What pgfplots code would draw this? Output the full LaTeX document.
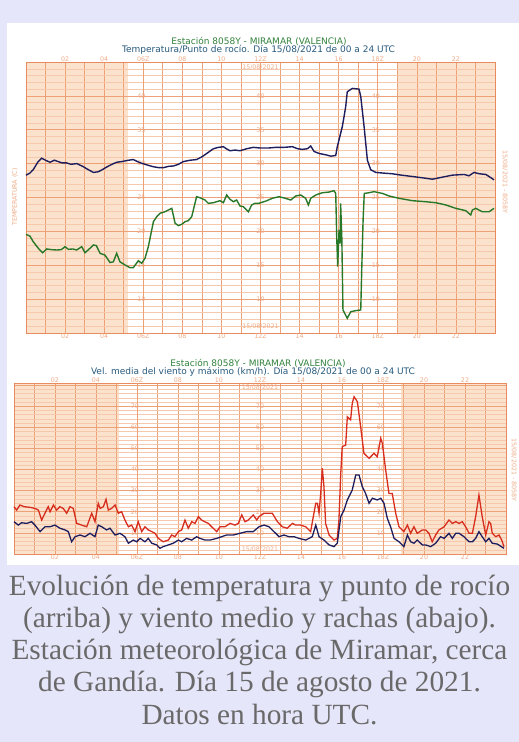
\documentclass[border=0pt]{standalone}
\usepackage{fontspec}
\setmainfont{Liberation Serif}
\newfontfamily\chartfont{DejaVu Sans}
\usepackage{pgfplots}
\pgfplotsset{compat=1.18}
\definecolor{lav}{RGB}{230,230,250}
\definecolor{shade}{RGB}{251,226,204}
\definecolor{gminor}{RGB}{246,200,172}
\definecolor{gmajor}{RGB}{238,160,118}
\definecolor{framec}{RGB}{232,140,95}
\definecolor{labc}{RGB}{240,172,135}
\definecolor{navy}{RGB}{30,30,95}
\definecolor{dgreen}{RGB}{40,120,40}
\definecolor{gred}{RGB}{215,45,30}
\definecolor{tgreen}{RGB}{50,130,60}
\definecolor{tblue}{RGB}{40,90,125}
\definecolor{capgray}{RGB}{105,105,105}
\tikzset{labs/.style={font=\chartfont\fontsize{6.3bp}{7bp}\selectfont, text=labc, inner sep=0.6bp},
  ttl/.style={font=\chartfont\fontsize{9bp}{10bp}\selectfont, inner sep=0pt}}
\pgfplotsset{
  meteo/.style={
    scale only axis, clip=false,
    xmin=0, xmax=24,
    axis line style={draw=framec, line width=0.8bp},
    xtick={0,1,...,24}, xticklabels={}, yticklabels={},
    major tick length=0pt, minor tick length=0pt,
    xmajorgrids, ymajorgrids, yminorgrids,
    major grid style={draw=gmajor, line width=0.6bp},
    minor grid style={draw=gminor, line width=0.45bp},
    extra x ticks={6,12,18}, extra x tick labels={},
    extra x tick style={grid style={draw=gray!55, line width=0.7bp}},
  },
  bgax/.style={scale only axis, hide axis, xmin=0, xmax=24},
}
\newcommand{\tl}[3]{\node[labs,anchor=south] at (axis cs:#1,#2) {#3};}
\newcommand{\bl}[3]{\node[labs,anchor=north] at (axis cs:#1,#2) {#3};}
\newcommand{\yl}[2]{\node[labs] at (axis cs:#1,#2) {#2};}
\begin{document}
\begin{tikzpicture}
\fill[lav] (0bp,0bp) rectangle (519bp,742bp);
\fill[white] (7bp,177bp) rectangle (519bp,719bp);
% titles
\node[ttl, text=tgreen] at (259bp,700bp) {Estación 8058Y - MIRAMAR (VALENCIA)};
\node[ttl, text=tblue] at (258.5bp,692bp) {Temperatura/Punto de rocío. Día 15/08/2021 de 00 a 24 UTC};
\node[ttl, text=tgreen] at (258bp,379bp) {Estación 8058Y - MIRAMAR (VALENCIA)};
\node[ttl, text=tblue] at (253bp,370bp) {Vel. media del viento y máximo (km/h). Día 15/08/2021 de 00 a 24 UTC};
\node[labs, rotate=90] at (15bp,545bp) {TEMPERATURA (C)};
\node[labs, rotate=-90] at (505bp,560bp) {15/08/2021 - 8058Y};
\node[labs, rotate=-90] at (514bp,272bp) {15/08/2021 - 8058Y};
% ---------------- upper chart: night shading
\begin{axis}[bgax, at={(26bp,409bp)}, anchor=south west, width=469bp, height=271bp, ymin=5, ymax=45]
\addplot[draw=none, fill=shade] coordinates {(0,5) (5.2,5) (5.2,45) (0,45)} -- cycle;
\addplot[draw=none, fill=shade] coordinates {(19.0,5) (24,5) (24,45) (19.0,45)} -- cycle;
\end{axis}
\begin{axis}[meteo, at={(26bp,409bp)}, anchor=south west, width=469bp, height=271bp,
  ymin=5, ymax=45, ytick={5,10,...,45}, minor y tick num=4]
\tl{2}{45}{02}\tl{4}{45}{04}\tl{6}{45}{06Z}\tl{8}{45}{08}\tl{10}{45}{10}\tl{12}{45}{12Z}\tl{14}{45}{14}\tl{16}{45}{16}\tl{18}{45}{18Z}\tl{20}{45}{20}\tl{22}{45}{22}
\bl{2}{5}{02}\bl{4}{5}{04}\bl{6}{5}{06Z}\bl{8}{5}{08}\bl{10}{5}{10}\bl{12}{5}{12Z}\bl{14}{5}{14}\bl{16}{5}{16}\bl{18}{5}{18Z}\bl{20}{5}{20}\bl{22}{5}{22}
\yl{5.9}{10}\yl{5.9}{15}\yl{5.9}{20}\yl{5.9}{25}\yl{5.9}{30}\yl{5.9}{35}\yl{5.9}{40}
\yl{12}{10}\yl{12}{15}\yl{12}{20}\yl{12}{25}\yl{12}{30}\yl{12}{35}\yl{12}{40}
\yl{17.9}{10}\yl{17.9}{15}\yl{17.9}{20}\yl{17.9}{25}\yl{17.9}{30}\yl{17.9}{35}\yl{17.9}{40}
\node[labs, anchor=north] at (axis cs:12,44.7) {15/08/2021};
\node[labs, anchor=south] at (axis cs:12,5.4) {15/08/2021};
% temperature
\addplot[navy, line width=1.4bp] coordinates {
(0,28.3) (0.2,28.6) (0.37,29.1) (0.6,30.2) (0.8,30.8) (1.0,30.5) (1.23,30.2) (1.45,30.5) (1.65,30.3) (1.85,30.1) (2.08,30.1) (2.3,29.9) (2.6,30.0) (2.9,29.6) (3.19,29.1) (3.45,28.7) (3.7,28.8) (3.9,29.1) (4.13,29.5) (4.4,29.9) (4.64,30.2) (4.9,30.3) (5.24,30.5) (5.49,30.6) (5.7,30.3) (5.92,30.05) (6.2,29.8) (6.5,29.55) (6.8,29.4) (7.03,29.4) (7.3,29.6) (7.54,29.65) (7.8,29.9) (8.05,30.3) (8.4,30.5) (8.73,30.6) (9.0,31.0) (9.25,31.5) (9.59,32.2) (9.85,32.4) (10.1,32.5) (10.25,32.2) (10.44,31.9) (10.7,32.0) (10.95,31.9) (11.3,32.2) (11.63,32.4) (12.0,32.3) (12.4,32.3) (12.78,32.4) (13.2,32.4) (13.63,32.5) (13.9,32.2) (14.14,32.1) (14.4,32.2) (14.57,32.6) (14.74,31.8) (15.0,31.5) (15.34,31.3) (15.6,31.1) (15.85,31.2) (15.93,32.5) (16.19,35.5) (16.36,38.4) (16.44,40.6) (16.7,41.1) (17.04,41.0) (17.13,39.9) (17.3,35.5) (17.47,30.5) (17.64,29.1) (17.9,28.7) (18.3,28.6) (18.75,28.5) (19.2,28.3) (19.77,28.1) (20.3,27.9) (20.8,27.7) (21.3,28.0) (21.82,28.3) (22.42,28.4) (22.67,28.2) (22.93,28.7) (23.2,28.5) (23.53,28.4) (23.75,28.0) (23.95,27.6)};
% dew point
\addplot[dgreen, line width=1.4bp] coordinates {
(0,19.56) (0.2,19.3) (0.37,18.48) (0.63,17.5) (0.85,16.85) (1.06,17.4) (1.3,17.3) (1.57,17.25) (1.8,17.3) (2.0,17.74) (2.17,17.35) (2.4,17.4) (2.59,17.25) (2.85,17.74) (3.02,16.85) (3.2,17.3) (3.45,17.99) (3.6,17.9) (3.79,16.76) (4.04,16.5) (4.3,15.4) (4.47,15.5) (4.64,16.76) (4.81,15.5) (5.07,15.04) (5.32,14.64) (5.49,14.64) (5.75,15.67) (5.92,15.29) (6.09,16.03) (6.26,17.74) (6.52,21.43) (6.69,22.17) (6.86,22.67) (7.11,22.9) (7.28,23.15) (7.46,23.4) (7.63,21.2) (7.8,20.84) (8.0,21.1) (8.14,21.43) (8.31,21.58) (8.48,22.17) (8.73,25.12) (8.9,24.97) (9.16,24.63) (9.33,24.14) (9.59,24.23) (9.93,24.53) (10.1,24.23) (10.27,25.37) (10.44,24.73) (10.61,24.38) (10.78,24.63) (10.95,23.75) (11.12,23.65) (11.38,22.9) (11.55,23.9) (11.72,24.14) (11.92,24.14) (12.3,24.5) (12.6,24.88) (12.95,25.12) (13.25,24.9) (13.55,24.63) (13.8,25.22) (14.06,25.37) (14.31,24.88) (14.45,23.9) (14.57,24.88) (14.83,25.37) (15.16,25.7) (15.5,25.8) (15.76,26.0) (15.85,25.6) (15.9,19.2) (15.95,14.8) (16.02,20.2) (16.07,18.2) (16.1,24.14) (16.16,19.2) (16.22,8.4) (16.44,7.17) (16.62,8.14) (16.87,8.3) (17.13,8.4) (17.18,14.3) (17.25,21.7) (17.31,25.6) (17.55,25.7) (17.81,25.86) (18.24,25.6) (18.58,25.22) (19.09,24.88) (19.77,24.53) (20.45,24.38) (20.97,24.23) (21.48,23.9) (21.99,23.4) (22.5,23.06) (22.76,22.42) (22.84,23.15) (23.01,23.4) (23.35,22.9) (23.7,22.9) (23.95,23.4)};
\end{axis}
% ---------------- lower chart: night shading
\begin{axis}[bgax, at={(14bp,188bp)}, anchor=south west, width=492bp, height=171bp, ymin=0, ymax=81]
\addplot[draw=none, fill=shade] coordinates {(0,0) (5.1,0) (5.1,81) (0,81)} -- cycle;
\addplot[draw=none, fill=shade] coordinates {(18.9,0) (24,0) (24,81) (18.9,81)} -- cycle;
\end{axis}
\begin{axis}[meteo, at={(14bp,188bp)}, anchor=south west, width=492bp, height=171bp,
  ymin=0, ymax=81, ytick={0,10,...,80}, minor y tick num=4]
\tl{2}{81}{02}\tl{4}{81}{04}\tl{6}{81}{06Z}\tl{8}{81}{08}\tl{10}{81}{10}\tl{12}{81}{12Z}\tl{14}{81}{14}\tl{16}{81}{16}\tl{18}{81}{18Z}\tl{20}{81}{20}\tl{22}{81}{22}
\bl{2}{0}{02}\bl{4}{0}{04}\bl{6}{0}{06Z}\bl{8}{0}{08}\bl{10}{0}{10}\bl{12}{0}{12Z}\bl{14}{0}{14}\bl{16}{0}{16}\bl{18}{0}{18Z}\bl{20}{0}{20}\bl{22}{0}{22}
\yl{5.9}{10}\yl{5.9}{20}\yl{5.9}{30}\yl{5.9}{40}\yl{5.9}{50}\yl{5.9}{60}\yl{5.9}{70}
\yl{12}{10}\yl{12}{20}\yl{12}{30}\yl{12}{40}\yl{12}{50}\yl{12}{60}\yl{12}{70}
\yl{17.9}{10}\yl{17.9}{20}\yl{17.9}{30}\yl{17.9}{40}\yl{17.9}{50}\yl{17.9}{60}\yl{17.9}{70}
\node[labs, anchor=north] at (axis cs:12,80.5) {15/08/2021};
\node[labs, anchor=south] at (axis cs:12,0.6) {15/08/2021};
% gusts
\addplot[gred, line width=1.3bp] coordinates {
(0,22.4) (0.13,20.8) (0.29,23.2) (0.5,22.4) (0.78,22.1) (1.02,21.6) (1.19,20.8) (1.35,16.1) (1.51,19.3) (1.67,22.4) (1.76,20.0) (1.92,23.2) (2.08,20.8) (2.24,22.4) (2.4,21.6) (2.57,19.3) (2.73,22.4) (2.89,21.6) (3.06,14.5) (3.3,13.7) (3.55,12.9) (3.79,19.3) (3.95,15.3) (4.11,24.0) (4.2,21.6) (4.36,22.4) (4.49,25.9) (4.6,20.8) (4.76,21.6) (4.93,23.2) (5.09,19.3) (5.25,20.0) (5.41,16.1) (5.58,12.9) (5.74,13.7) (5.9,10.6) (6.06,15.3) (6.23,10.6) (6.39,12.9) (6.55,11.4) (6.72,10.6) (6.88,9.8) (7.04,7.4) (7.28,5.8) (7.53,6.6) (7.69,9.0) (7.85,8.2) (8.02,10.6) (8.18,11.4) (8.34,16.1) (8.5,12.2) (8.67,15.3) (8.83,14.5) (8.99,17.7) (9.15,16.1) (9.3,15.3) (9.48,14.5) (9.64,12.9) (9.89,10.6) (10.05,12.9) (10.29,12.9) (10.54,14.5) (10.78,13.7) (10.94,14.5) (11.11,18.5) (11.27,15.3) (11.43,16.1) (11.67,18.5) (11.84,16.1) (11.95,17.7) (12.2,19.3) (12.6,19.3) (12.85,15.3) (13.09,12.9) (13.33,12.2) (13.58,14.5) (13.74,13.7) (13.98,13.7) (14.23,12.9) (14.47,10.6) (14.63,19.3) (14.72,24.0) (14.8,24.0) (14.88,19.3) (14.96,28.7) (15.04,40.6) (15.12,31.9) (15.2,14.5) (15.37,9.0) (15.61,6.6) (15.77,7.4) (15.85,16.1) (15.94,38.2) (16.01,50.8) (16.18,51.6) (16.26,65.0) (16.42,63.5) (16.5,71.4) (16.59,74.5) (16.75,72.1) (16.91,60.3) (17.07,47.7) (17.32,45.3) (17.56,47.7) (17.72,46.1) (17.89,54.8) (17.97,52.4) (18.13,39.8) (18.29,28.7) (18.45,28.7) (18.62,19.3) (18.78,12.9) (19.02,10.6) (19.19,13.7) (19.35,9.8) (19.51,12.9) (19.67,9.8) (19.92,11.4) (20.08,11.4) (20.24,9.8) (20.4,5.8) (20.57,9.0) (20.73,11.4) (20.98,12.9) (21.22,16.1) (21.38,14.5) (21.55,15.3) (21.71,14.5) (21.87,15.3) (22.03,12.9) (22.2,9.8) (22.36,9.8) (22.52,17.7) (22.68,27.9) (22.84,17.7) (23.01,9.0) (23.17,15.3) (23.25,14.5) (23.33,9.8) (23.5,8.2) (23.66,9.0) (23.79,6.6) (23.9,3.5)};
% mean wind
\addplot[navy, line width=1.3bp] coordinates {
(0,15.3) (0.21,13.7) (0.37,14.8) (0.62,14.5) (0.86,15.3) (1.02,13.7) (1.27,10.6) (1.51,12.9) (1.76,12.9) (2.0,13.7) (2.24,12.2) (2.49,11.4) (2.65,10.6) (2.81,5.8) (2.98,8.2) (3.22,9.0) (3.46,8.2) (3.71,9.8) (3.95,8.2) (4.11,13.7) (4.28,12.9) (4.52,11.4) (4.68,12.2) (4.93,9.0) (5.17,9.8) (5.41,8.2) (5.58,5.1) (5.82,6.6) (5.98,5.8) (6.15,7.4) (6.39,5.8) (6.55,7.4) (6.72,5.1) (6.96,4.3) (7.12,2.7) (7.28,3.5) (7.53,4.3) (7.77,5.1) (8.02,6.6) (8.18,5.8) (8.42,7.4) (8.67,6.6) (8.91,8.2) (9.07,7.4) (9.32,6.6) (9.56,6.6) (9.89,7.4) (10.13,8.2) (10.37,9.0) (10.7,9.0) (11.02,9.8) (11.35,10.6) (11.67,10.6) (11.95,12.9) (12.2,13.7) (12.44,12.9) (12.68,10.6) (12.93,8.2) (13.17,9.0) (13.41,8.2) (13.66,8.2) (13.9,7.4) (14.23,6.6) (14.55,8.2) (14.72,13.7) (14.88,8.2) (15.12,6.6) (15.37,4.3) (15.61,3.5) (15.77,5.1) (15.94,17.7) (16.1,20.8) (16.26,25.6) (16.5,30.3) (16.67,37.4) (16.83,37.4) (16.99,31.9) (17.15,28.7) (17.32,24.0) (17.48,26.4) (17.72,25.6) (17.89,26.4) (18.05,24.0) (18.21,16.9) (18.37,12.9) (18.54,7.4) (18.78,5.8) (19.02,3.5) (19.19,9.0) (19.35,5.8) (19.51,5.1) (19.67,6.6) (19.92,4.3) (20.08,4.3) (20.33,3.5) (20.57,5.1) (20.81,8.2) (20.98,7.4) (21.22,9.8) (21.38,7.4) (21.55,9.8) (21.71,9.8) (21.95,8.2) (22.2,5.8) (22.36,5.8) (22.52,7.4) (22.68,10.6) (22.84,8.2) (23.01,5.8) (23.17,7.4) (23.33,5.1) (23.58,4.7) (23.9,2.7)};
\end{axis}
% caption
\begin{scope}[every node/.style={font=\fontsize{29.3bp}{32bp}\selectfont, text=capgray, anchor=base, inner sep=0pt}]
\node at (259.5bp,146bp) {Evolución de temperatura y punto de rocío};
\node at (259.5bp,114bp) {(arriba) y viento medio y rachas (abajo).};
\node at (259.5bp,82bp) {Estación meteorológica de Miramar, cerca};
\node at (259.5bp,50bp) {de Gandía. Día 15 de agosto de 2021.};
\node at (259.5bp,18bp) {Datos en hora UTC.};
\end{scope}
\end{tikzpicture}
\end{document}
